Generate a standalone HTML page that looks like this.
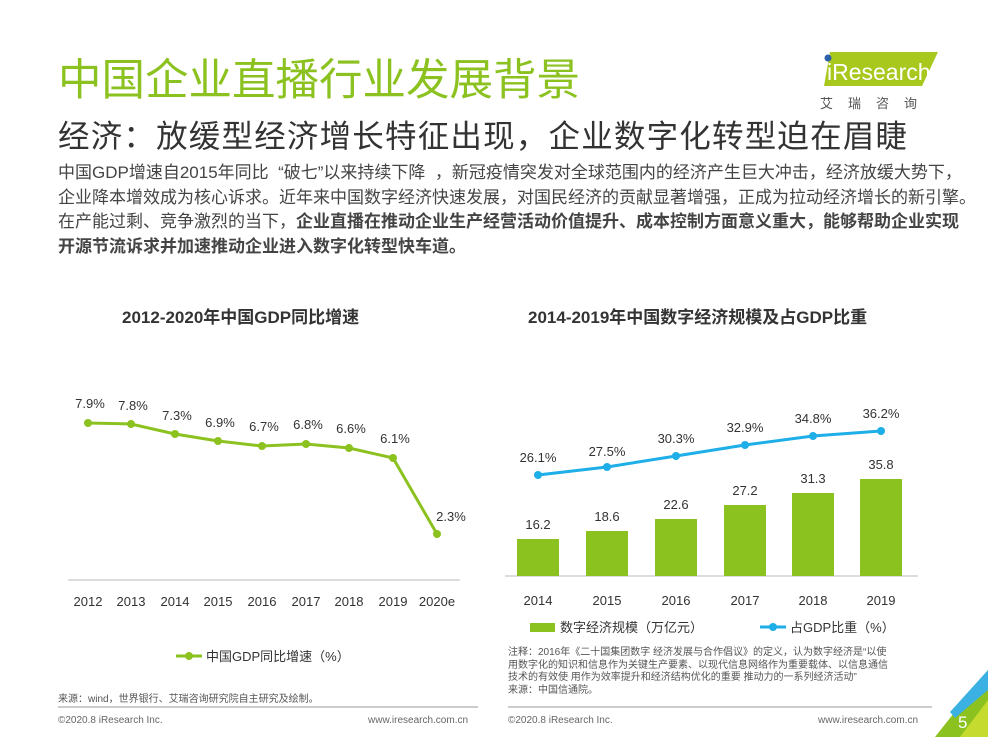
<!DOCTYPE html>
<html><head><meta charset="utf-8"><style>
body{margin:0;width:988px;height:737px;background:#fff;position:relative;overflow:hidden;font-family:"Liberation Sans","Noto Sans CJK SC",sans-serif;color:#333}
.a{position:absolute;white-space:nowrap}
</style></head><body>
<div class="a" style="left:58px;top:53px;font-size:43.5px;color:#8cc21f;line-height:56px">中国企业直播行业发展背景</div>
<div class="a" style="left:58px;top:116px;font-size:31.5px;color:#333;line-height:40px;letter-spacing:1.2px">经济：放缓型经济增长特征出现，企业数字化转型迫在眉睫</div>
<div class="a" style="left:58px;top:161px;font-size:17px;line-height:24.5px;color:#444">中国GDP增速自2015年同比 &nbsp;“破七”以来持续下降 &nbsp;，新冠疫情突发对全球范围内的经济产生巨大冲击，经济放缓大势下，<br>企业降本增效成为核心诉求。近年来中国数字经济快速发展，对国民经济的贡献显著增强，正成为拉动经济增长的新引擎。<br>在产能过剩、竞争激烈的当下，<b>企业直播在推动企业生产经营活动价值提升、成本控制方面意义重大，能够帮助企业实现<br>开源节流诉求并加速推动企业进入数字化转型快车道。</b></div>
<!-- logo -->
<svg class="a" style="left:810px;top:48px" width="130" height="40"><polygon points="20,4 128,4 112,38 14,38" fill="#a8c81d"/><circle cx="18" cy="10" r="3.5" fill="#2d5ea8"/><text x="17" y="32" font-size="23" fill="#fff" font-family="Liberation Sans">iResearch</text></svg>
<div class="a" style="left:820px;top:93px;font-size:13px;color:#555;letter-spacing:15px">艾瑞咨询</div>
<div class="a" style="left:122px;top:303px;font-size:17px;font-weight:bold;color:#333">2012-2020年中国GDP同比增速</div>
<div class="a" style="left:528px;top:303px;font-size:17px;font-weight:bold;color:#333">2014-2019年中国数字经济规模及占GDP比重</div>
<svg class="a" style="left:0;top:0" width="988" height="737" font-family="Liberation Sans" font-size="13" fill="#333">
<line x1="68" y1="580" x2="460" y2="580" stroke="#bbb"/>
<polyline points="88,423 131,424 175,434 218,441 262,446 306,444 349,448 393,458 437,534" fill="none" stroke="#8cc21f" stroke-width="3"/>
<g fill="#8cc21f"><circle cx="88" cy="423" r="4"/><circle cx="131" cy="424" r="4"/><circle cx="175" cy="434" r="4"/><circle cx="218" cy="441" r="4"/><circle cx="262" cy="446" r="4"/><circle cx="306" cy="444" r="4"/><circle cx="349" cy="448" r="4"/><circle cx="393" cy="458" r="4"/><circle cx="437" cy="534" r="4"/></g>
<g text-anchor="middle"><text x="90" y="408">7.9%</text><text x="133" y="410">7.8%</text><text x="177" y="420">7.3%</text><text x="220" y="427">6.9%</text><text x="264" y="431">6.7%</text><text x="308" y="429">6.8%</text><text x="351" y="433">6.6%</text><text x="395" y="443">6.1%</text><text x="451" y="521">2.3%</text>
<text x="88" y="606">2012</text><text x="131" y="606">2013</text><text x="175" y="606">2014</text><text x="218" y="606">2015</text><text x="262" y="606">2016</text><text x="306" y="606">2017</text><text x="349" y="606">2018</text><text x="393" y="606">2019</text><text x="437" y="606">2020e</text></g>
<line x1="176" y1="656" x2="202" y2="656" stroke="#8cc21f" stroke-width="3"/><circle cx="189" cy="656" r="4" fill="#8cc21f"/>
<text x="206" y="661">中国GDP同比增速（%）</text>
<line x1="505" y1="576" x2="918" y2="576" stroke="#bbb"/>
<g fill="#8cc21f"><rect x="517" y="539" width="42" height="37"/><rect x="586" y="531" width="42" height="45"/><rect x="655" y="519" width="42" height="57"/><rect x="724" y="505" width="42" height="71"/><rect x="792" y="493" width="42" height="83"/><rect x="860" y="479" width="42" height="97"/></g>
<polyline points="538,475 607,467 676,456 745,445 813,436 881,431" fill="none" stroke="#1eaee8" stroke-width="3"/>
<g fill="#1eaee8"><circle cx="538" cy="475" r="4"/><circle cx="607" cy="467" r="4"/><circle cx="676" cy="456" r="4"/><circle cx="745" cy="445" r="4"/><circle cx="813" cy="436" r="4"/><circle cx="881" cy="431" r="4"/></g>
<g text-anchor="middle"><text x="538" y="462">26.1%</text><text x="607" y="456">27.5%</text><text x="676" y="443">30.3%</text><text x="745" y="432">32.9%</text><text x="813" y="423">34.8%</text><text x="881" y="418">36.2%</text>
<text x="538" y="529">16.2</text><text x="607" y="521">18.6</text><text x="676" y="509">22.6</text><text x="745" y="495">27.2</text><text x="813" y="483">31.3</text><text x="881" y="469">35.8</text>
<text x="538" y="605">2014</text><text x="607" y="605">2015</text><text x="676" y="605">2016</text><text x="745" y="605">2017</text><text x="813" y="605">2018</text><text x="881" y="605">2019</text></g>
<rect x="530" y="623" width="25" height="9" fill="#8cc21f"/><text x="560" y="632">数字经济规模（万亿元）</text>
<line x1="760" y1="627" x2="786" y2="627" stroke="#1eaee8" stroke-width="3"/><circle cx="773" cy="627" r="4" fill="#1eaee8"/><text x="790" y="632">占GDP比重（%）</text>
<line x1="58" y1="707" x2="478" y2="707" stroke="#999"/><line x1="508" y1="707" x2="932" y2="707" stroke="#999"/>
<polygon points="988,670 988,737 935,737" fill="#8cc21f"/><polygon points="988,670 988,690 955,718 950,712" fill="#3bb1e3"/><polygon points="960,737 988,700 988,737" fill="#c5dc2e"/>
<text x="958" y="728" font-size="17" fill="#fff">5</text>
</svg>
<div class="a" style="left:58px;top:690px;font-size:10px;color:#555">来源：wind，世界银行、艾瑞咨询研究院自主研究及绘制。</div>
<div class="a" style="left:508px;top:647px;font-size:10px;line-height:12.5px;color:#555">注释：2016年《二十国集团数字 经济发展与合作倡议》的定义，认为数字经济是“以使<br>用数字化的知识和信息作为关键生产要素、以现代信息网络作为重要载体、以信息通信<br>技术的有效使 用作为效率提升和经济结构优化的重要 推动力的一系列经济活动”<br>来源：中国信通院。</div>
<div class="a" style="left:58px;top:715px;font-size:10px;color:#666">©2020.8 iResearch Inc.</div>
<div class="a" style="left:368px;top:715px;font-size:10px;color:#666">www.iresearch.com.cn</div>
<div class="a" style="left:508px;top:715px;font-size:10px;color:#666">©2020.8 iResearch Inc.</div>
<div class="a" style="left:818px;top:715px;font-size:10px;color:#666">www.iresearch.com.cn</div>
</body></html>
